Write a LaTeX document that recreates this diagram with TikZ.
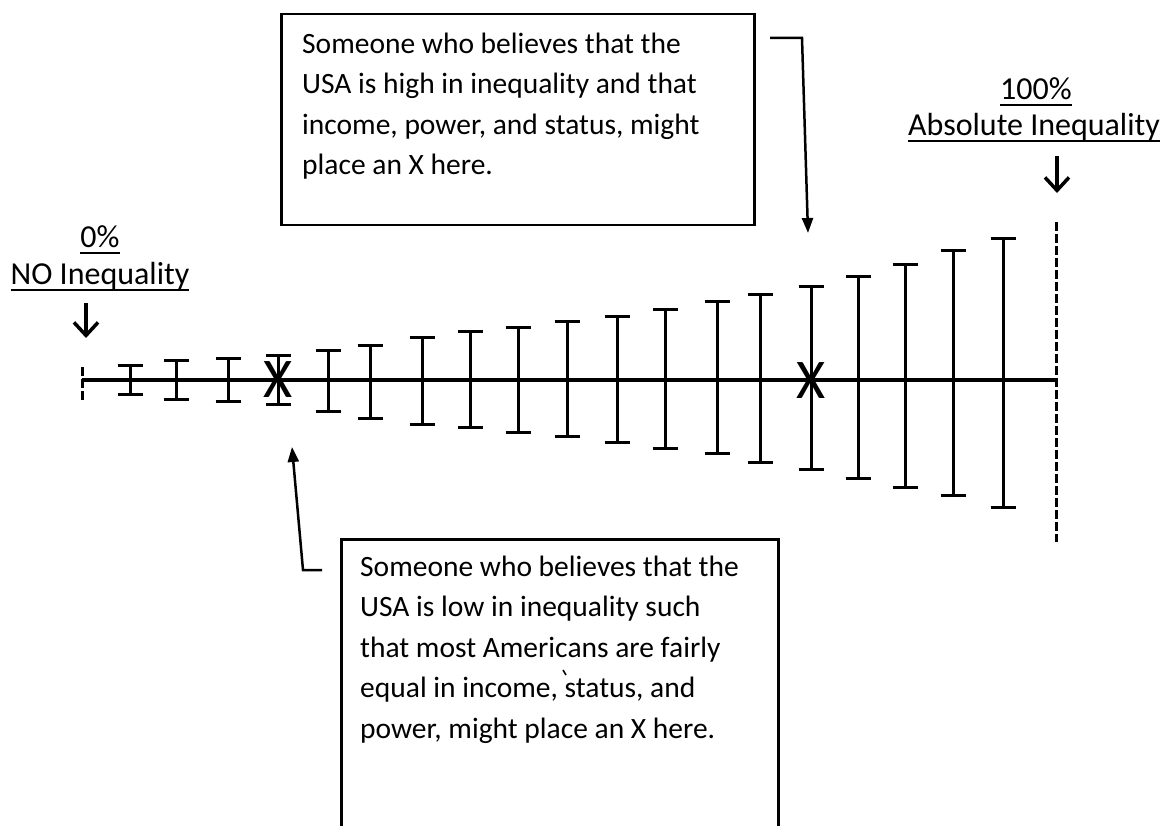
\documentclass[tikz,border=0pt]{standalone}
\usepackage{fontspec}
\setmainfont{Carlito}
\usetikzlibrary{arrows.meta}
\newcommand\ulx[1]{\setbox0\hbox{#1}\rlap{\rule[-6pt]{\wd0}{2pt}}\box0}
\begin{document}
\begin{tikzpicture}[x=1pt,y=-1pt,
  boxline/.style={draw=black,line width=2.5pt,inner sep=0pt},
  boxtext/.style={anchor=north west,inner sep=0pt,align=left,font=\fontsize{29.5}{40.5}\selectfont},
  labtext/.style={anchor=base,inner sep=0pt,font=\fontsize{32}{37}\selectfont},
  bigx/.style={inner sep=0pt,font=\fontsize{56}{60}\selectfont},
  axisline/.style={line width=4pt},
  barline/.style={line width=3pt},
  limitline/.style={line width=3pt,dash pattern=on 9pt off 3pt},
  downarrow/.style={line width=3.5pt,-{Straight Barb[length=13pt,width=24pt]}},
  callout/.style={line width=2.5pt,-{Triangle[length=15pt,width=11pt]}}]
\useasboundingbox (0,0) rectangle (1165,826);
\clip (0,0) rectangle (1165,826);

% axis
\coordinate (axl) at (82,380);
\coordinate (axr) at (1056,380);
\draw[axisline] (axl) -- (axr);
\draw[limitline] (82,367) -- (82,400);
\draw[limitline] (1056,222) -- (1056,542);

% error bars
\foreach \x/\t/\b in {130/366/394,176/361/399,228/359/401,278/356/404,328/351/411,
  370/346/418,422/338/424,470/332/427,518/328/432,567/322/436,617/317/442,
  665/310/448,717/302/453,760/295/462,811/287/469,858/277/478,905/265/487,
  953/251/495,1003/239/507}{
  \draw[barline] (\x,\t) -- (\x,\b);
  \draw[barline] (\x-12.5,\t) -- (\x+12.5,\t);
  \draw[barline] (\x-12.5,\b) -- (\x+12.5,\b);
}

% X marks
\node[bigx] (xlow) at (278,380) {X};
\node[bigx] (xhigh) at (811,381) {X};

% end labels
\node[labtext] (pct0) at (100,248) {\ulx{0\%}};
\node[labtext] (lab0) at (100,285) {\ulx{NO Inequality}};
\node[labtext] (pct100) at (1036,100) {\ulx{100\%}};
\node[labtext] (lab100) at (1034,136) {\ulx{Absolute Inequality}};
\coordinate (a0s) at (86,303);
\coordinate (a0e) at (86,338);
\coordinate (a1s) at (1057,156);
\coordinate (a1e) at (1057,193);
\draw[downarrow] (a0s) -- (a0e);
\draw[downarrow] (a1s) -- (a1e);

% top box
\node[boxline,anchor=north west,minimum width=473pt,minimum height=211pt] (topbox) at (280,13) {};
\node[boxtext] (toptext) at (302,32.5) {Someone who believes that the\\USA is high in inequality and that\\income, power, and status, might\\place an X here.};
\coordinate (t1) at (770,38);
\coordinate (t2) at (802,38);
\coordinate (t3) at (808,233);
\draw[callout] (t1) -- (t2) -- (t3);

% bottom box
\node[boxline,anchor=north west,minimum width=437pt,minimum height=320pt] (lowbox) at (340,538) {};
\node[boxtext] (lowtext) at (360,555.5) {Someone who believes that the\\USA is low in inequality such\\that most Americans are fairly\\equal in income, status, and\\power, might place an X here.};
\draw[line width=1.6pt] (563,670) -- (566,675);
\coordinate (b1) at (322,570);
\coordinate (b2) at (303,570);
\coordinate (b3) at (292,447);
\draw[callout] (b1) -- (b2) -- (b3);
\end{tikzpicture}
\end{document}
